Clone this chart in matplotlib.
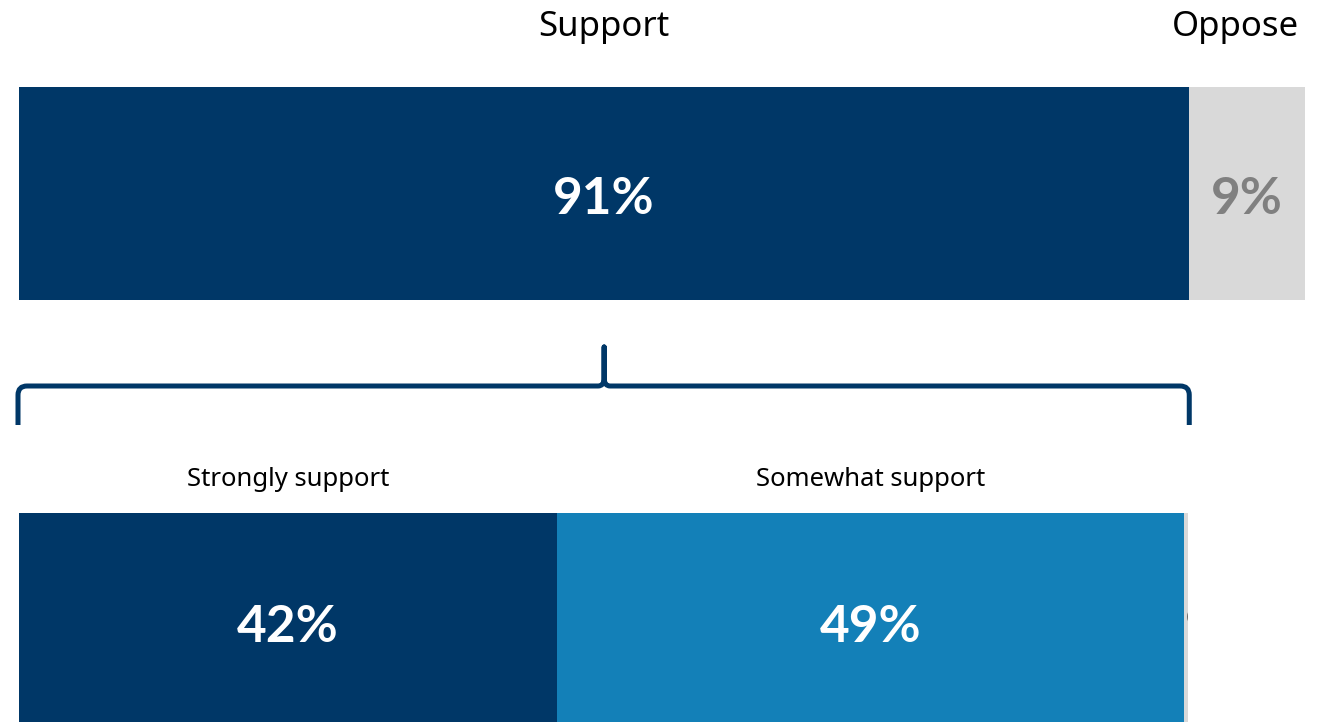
import matplotlib.pyplot as plt
from matplotlib.path import Path
from matplotlib.patches import PathPatch
from matplotlib.transforms import IdentityTransform

# --- данные ---
top_labels = ['Support', 'Oppose']
top_values = [91, 9]
top_colors = ['#003767', '#d9d9d9']
top_text_colors = ['white', '#808080']

bottom_labels = ['Strongly support', 'Somewhat support', 'Oppose']
bottom_values = [42, 49, 9]
bottom_colors = ['#003767', '#1380b8', '#d9d9d9']
bottom_text_colors = ['white', 'white', '#595959']

W, H = 1326, 722
fig = plt.figure(figsize=(W / 100, H / 100), dpi=100)

label_font = 'Noto Sans'
num_font = 'Lato'
num_size = 37


def px_axes(x0, y0, x1, y1):
    # прямоугольник в пикселях (от верхнего левого угла) -> оси
    return fig.add_axes([x0 / W, 1 - y1 / H, (x1 - x0) / W, (y1 - y0) / H])


# --- верхняя полоса ---
ax_top = px_axes(19, 87, 1305, 300)
left = 0
for lab, val, col, tcol in zip(top_labels, top_values, top_colors, top_text_colors):
    ax_top.barh(0, val, left=left, height=1, color=col, edgecolor='none')
    ax_top.text(left + val / 2, -0.03, f'{val}%', ha='center', va='center',
                color=tcol, fontsize=num_size, fontweight='bold', family=num_font)
    left += val
ax_top.set_xlim(0, 100)
ax_top.set_ylim(-0.5, 0.5)
ax_top.axis('off')

ax_top.annotate(top_labels[0], xy=(top_values[0] / 2, 1), xycoords=('data', 'axes fraction'),
                xytext=(0, 43), textcoords='offset points', ha='center', va='center',
                fontsize=25, family=label_font)
ax_top.annotate(top_labels[1], xy=(100, 1), xycoords=('data', 'axes fraction'),
                xytext=(-4, 43), textcoords='offset points', ha='right', va='center',
                fontsize=25, family=label_font)

# --- нижняя полоса (обрезана справа) ---
ax_bot = px_axes(19, 513, 1188, 743)
left = 0
for lab, val, col, tcol in zip(bottom_labels, bottom_values, bottom_colors, bottom_text_colors):
    ax_bot.barh(0, val, left=left, height=1, color=col, edgecolor='none')
    if lab == 'Oppose':
        ax_bot.text(left + 0.08, 0, f'{val}%', ha='left', va='center', color=tcol,
                    fontsize=num_size, fontweight='bold', family=num_font, clip_on=True)
    else:
        ax_bot.text(left + val / 2, 0, f'{val}%', ha='center', va='center', color=tcol,
                    fontsize=num_size, fontweight='bold', family=num_font, clip_on=True)
        ax_bot.annotate(lab, xy=(left + val / 2, 1), xycoords=('data', 'axes fraction'),
                        xytext=(0, 24), textcoords='offset points', ha='center', va='center',
                        fontsize=18.5, family=label_font)
    left += val
ax_bot.set_xlim(0, 1169 / 12.8)
ax_bot.set_ylim(-0.5, 0.5)
ax_bot.axis('off')

# --- фигурная скобка под "Support" ---
fig.canvas.draw()
xl = ax_top.transData.transform((0, 0))[0] - 1
xr = ax_top.transData.transform((top_values[0], 0))[0]
xm = (xl + xr) / 2 + 0.5
y_bot, y_bar, y_tip, r = 425, 386, 347, 9


def to_disp(x, y):
    return (x, H - y)


pts = [
    (xl, y_bot), (xl, y_bar + r), (xl, y_bar), (xl + r, y_bar),
    (xm - 6, y_bar), (xm, y_bar), (xm, y_bar - 8), (xm, y_tip),
    (xm, y_bar - 8), (xm, y_bar), (xm + 6, y_bar),
    (xr - r, y_bar), (xr, y_bar), (xr, y_bar + r), (xr, y_bot),
]
codes = [Path.MOVETO, Path.LINETO, Path.CURVE3, Path.CURVE3,
         Path.LINETO, Path.CURVE3, Path.CURVE3, Path.LINETO,
         Path.LINETO, Path.CURVE3, Path.CURVE3,
         Path.LINETO, Path.CURVE3, Path.CURVE3, Path.LINETO]
brace = Path([to_disp(*p) for p in pts], codes)
fig.add_artist(PathPatch(brace, transform=IdentityTransform(), fill=False,
                         edgecolor='#003767', lw=3.6, capstyle='butt', joinstyle='round'))

fig.savefig('out.png', dpi=100)
